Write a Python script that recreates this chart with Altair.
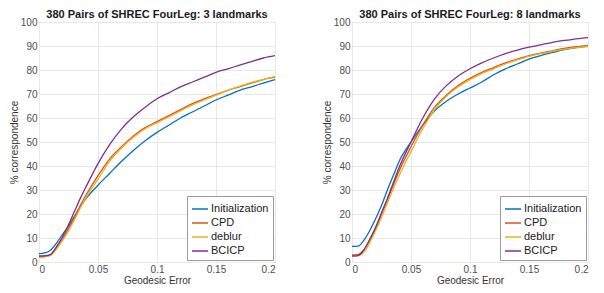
import altair as alt
import pandas as pd

x_vals = [0, 0.005, 0.01, 0.015, 0.02, 0.025, 0.03, 0.035, 0.04, 0.05, 0.06, 0.07,
          0.08, 0.09, 0.1, 0.11, 0.12, 0.13, 0.14, 0.15, 0.16, 0.17, 0.18, 0.19, 0.2]
methods = ["Initialization", "CPD", "deblur", "BCICP"]
colors = ["#0072BD", "#D95319", "#EDB120", "#7E2F8E"]

# 3 landmarks
l_init = [3.5, 3.8, 5, 8, 11.5, 15, 19, 23, 26.5, 32, 37, 42, 46.5, 50.5, 54, 57, 60,
          62.5, 65, 67.5, 69.5, 71.5, 73, 74.5, 76]
l_cpd = [2, 2.2, 3, 6, 9.5, 14, 18.5, 23.5, 28, 36, 43, 48, 52.5, 56, 58.5, 61, 63.5,
         66, 68, 69.7, 71.5, 73, 74.5, 76, 77]
l_deblur = [2, 2.2, 2.8, 5.5, 9, 13, 17.5, 22.5, 27, 34.5, 42, 47.5, 52, 55.5, 58, 60.5,
            63, 65.5, 67.5, 69.5, 71.5, 73.2, 74.8, 76, 77.3]
l_bcicp = [2.5, 2.6, 3.2, 6.5, 10.5, 15.5, 21, 26.5, 31.5, 41, 49, 55.5, 60.5, 64.5, 68,
           70.5, 73, 75, 77, 79, 80.5, 82, 83.5, 85, 86]

# 8 landmarks
r_init = [6.5, 6.6, 9, 13, 18, 23.5, 30, 36, 42, 50, 57, 63, 67, 70, 72.5, 75, 78, 80.5,
          82.5, 84.5, 86, 87.3, 88.5, 89.3, 90]
r_cpd = [3, 3.1, 5, 9, 14, 20, 26, 32, 38, 48, 57, 64.5, 69.5, 73.5, 76.5, 79, 81, 83,
         84.5, 86, 87, 88, 89, 89.7, 90.3]
r_deblur = [2.5, 2.6, 4, 8, 13, 18.5, 24.5, 30.5, 36, 46, 55.5, 63.5, 69, 73, 76, 78.5,
            80.5, 82.5, 84.2, 85.7, 86.8, 87.8, 88.7, 89.3, 89.8]
r_bcicp = [2.5, 2.7, 5, 9.5, 14.5, 20.5, 26.5, 33, 39.5, 50, 60, 68, 73.5, 77.5, 80.5, 83,
           85, 86.8, 88.3, 89.5, 90.5, 91.5, 92.3, 93, 93.5]

x_ticks = [0, 0.05, 0.1, 0.15, 0.2]
y_ticks = list(range(0, 101, 10))


def make_df(series):
    rows = []
    for i, (m, ys) in enumerate(zip(methods, series)):
        for x, y in zip(x_vals, ys):
            rows.append({"x": x, "y": y, "method": m, "k": i})
    return pd.DataFrame(rows)


def panel(df, title):
    return alt.Chart(df, title=alt.Title(title)).mark_line(
        interpolate="monotone", strokeWidth=1.3
    ).encode(
        x=alt.X("x:Q", scale=alt.Scale(domain=[0, 0.2], nice=False),
                axis=alt.Axis(values=x_ticks, format="~g", title="Geodesic Error")),
        y=alt.Y("y:Q", scale=alt.Scale(domain=[0, 100], nice=False),
                axis=alt.Axis(values=y_ticks, title="% correspondence")),
        color=alt.Color("method:N", scale=alt.Scale(domain=methods, range=colors),
                        legend=alt.Legend(title=None, orient="bottom-right", offset=2)),
        order=alt.Order("k:Q"),
    ).properties(width=236, height=240)


left = panel(make_df([l_init, l_cpd, l_deblur, l_bcicp]),
             "380 Pairs of SHREC FourLeg: 3 landmarks")
right = panel(make_df([r_init, r_cpd, r_deblur, r_bcicp]),
              "380 Pairs of SHREC FourLeg: 8 landmarks")

chart = alt.hconcat(left, right, spacing=42).resolve_scale(color="independent").properties(
    padding={"left": 0, "top": 0, "right": 0, "bottom": 0}
).configure(font="Liberation Sans").configure_view(
    stroke="#9a9a9a"
).configure_axis(
    labelFontSize=10, titleFontSize=10, labelColor="#4d4d4d", titleColor="#333333",
    titleFontWeight="normal", gridColor="#e8e8e8", domain=False, ticks=False,
    labelPadding=2, titlePadding=1
).configure_title(
    fontSize=11, fontWeight="bold", color="#1a1a1a", offset=-3
).configure_legend(
    symbolType="stroke", symbolSize=256, symbolStrokeWidth=1.5, labelFontSize=11,
    labelColor="#1a1a1a", strokeColor="#9a9a9a", fillColor="white", padding=4,
    rowPadding=0, labelOffset=2, cornerRadius=0
)

chart.save("out.html", embed_options={"renderer": "svg", "actions": False})
